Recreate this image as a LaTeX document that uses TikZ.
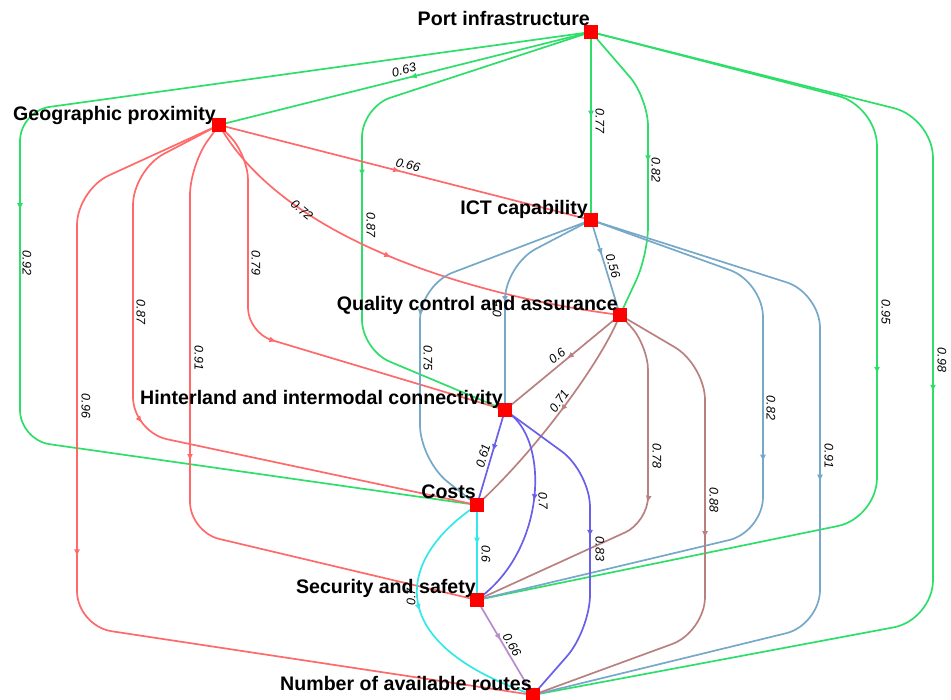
\documentclass[tikz,border=0pt]{standalone}
\usepackage{fontspec}
\setmainfont{Liberation Sans}
\usetikzlibrary{arrows.meta,decorations.markings}
\definecolor{cgreen}{RGB}{45,222,105}
\definecolor{cred}{RGB}{255,105,105}
\definecolor{cblue}{RGB}{118,168,200}
\definecolor{cbrown}{RGB}{185,128,128}
\definecolor{cviolet}{RGB}{105,95,232}
\definecolor{ccyan}{RGB}{50,232,232}
\definecolor{clilac}{RGB}{185,138,205}
\definecolor{nodered}{RGB}{255,0,0}
\begin{document}
\begin{tikzpicture}[x=1pt,y=-1pt,
  sq/.style={minimum size=13pt, inner sep=0pt, draw=none},
  nlab/.style={font=\fontsize{19.6}{21}\selectfont\bfseries, inner sep=0pt, anchor=base east},
  elab/.style={font=\fontsize{12.5}{13}\selectfont\itshape, inner sep=0pt},
  ed/.style={line width=1.7pt},
  eg/.style={ed, color=cgreen},
  er/.style={ed, color=cred},
  eb/.style={ed, color=cblue},
  eq/.style={ed, color=cbrown},
  ev/.style={ed, color=cviolet},
  ec/.style={ed, color=ccyan},
  ep/.style={ed, color=clilac},
  amark/.style={postaction={decorate, decoration={markings, mark=at position #1 with {\arrow{Latex[length=7pt,width=6pt]}}}}},
]
\useasboundingbox (0,0) rectangle (951,700);

% node squares (positions)
\node[sq] (PI) at (591,32) {};
\node[sq] (GP) at (219,125) {};
\node[sq] (ICT) at (591,220) {};
\node[sq] (QC) at (620,315) {};
\node[sq] (HI) at (505,410) {};
\node[sq] (Costs) at (477,505) {};
\node[sq] (SS) at (477,600) {};
\node[sq] (NR) at (533,695) {};

% Port infrastructure edges
\draw[eg, amark=180pt] (PI) -- (GP);
\draw[eg, amark=658pt, rounded corners=30pt] (PI) -- (20,111) -- (20,440) -- (Costs);
\draw[eg, amark=295pt, rounded corners=30pt] (PI) -- (362,107) -- (362,350) -- (HI);
\draw[eg, amark=79pt] (PI) -- (ICT);
\draw[eg, amark=140pt, rounded corners=28pt] (PI) -- (648,98) -- (648,255) -- (QC);
\draw[eg, amark=544pt, rounded corners=40pt] (PI) -- (877,106) -- (877,518) -- (SS);
\draw[eg, amark=607pt, rounded corners=40pt] (PI) -- (933,118) -- (933,620) -- (NR);

% Geographic proximity edges
\draw[er, amark=180pt] (GP) -- (ICT);
\draw[er, amark=213pt] (GP) .. controls (290,240) and (470,295) .. (QC);
\draw[er, amark=230pt, rounded corners=25pt] (GP) -- (248,155) -- (248,333) -- (HI);
\draw[er, amark=337pt, rounded corners=35pt] (GP) -- (133,170) -- (133,432) -- (Costs);
\draw[er, amark=335pt, rounded corners=30pt] (GP) -- (190,165) -- (190,532) -- (SS);
\draw[er, amark=507pt, rounded corners=35pt] (GP) -- (77,190) -- (77,626) -- (NR);

% ICT capability edges
\draw[eb, amark=30pt] (ICT) -- (QC);
\draw[eb, amark=120pt, rounded corners=35pt] (ICT) -- (505,265) -- (HI);
\draw[eb, amark=198pt, rounded corners=35pt] (ICT) -- (420,285) -- (420,460) -- (Costs);
\draw[eb, amark=346pt, rounded corners=35pt] (ICT) -- (763,282) -- (763,532) -- (SS);
\draw[eb, amark=412pt, rounded corners=35pt] (ICT) -- (820,293) -- (820,625) -- (NR);

% Quality control edges
\draw[eq, amark=60pt] (QC) -- (HI);
\draw[eq, amark=106pt] (QC) .. controls (598,365) and (540,445) .. (Costs);
\draw[eq, amark=187pt, rounded corners=25pt] (QC) -- (648,345) -- (648,522) -- (SS);
\draw[eq, amark=257pt, rounded corners=35pt] (QC) -- (705,365) -- (705,632) -- (NR);

% Hinterland edges
\draw[ev, amark=36pt] (HI) -- (Costs);
\draw[ev, amark=92pt] (HI) .. controls (548,445) and (545,545) .. (SS);
\draw[ev, amark=156pt, rounded corners=35pt] (HI) -- (590,472) -- (590,630) -- (NR);

% Costs edges
\draw[ec, amark=33pt] (Costs) -- (SS);
\draw[ec, amark=121pt] (Costs) .. controls (400,560) and (381,640) .. (NR);

% Security edge
\draw[ep, amark=39pt] (SS) -- (NR);

% squares on top
\foreach \n in {PI,GP,ICT,QC,HI,Costs,SS,NR}
  \fill[nodered] (\n.south west) rectangle (\n.north east);

% node labels
\node[nlab] (PIl) at (590,26) {Port infrastructure};
\node[nlab] (GPl) at (216,121) {Geographic proximity};
\node[nlab] (ICTl) at (588,215) {ICT capability};
\node[nlab] (QCl) at (618,311) {Quality control and assurance};
\node[nlab] (HIl) at (503,405) {Hinterland and intermodal connectivity};
\node[nlab] (Costsl) at (476,499) {Costs};
\node[nlab] (SSl) at (476,593) {Security and safety};
\node[nlab] (NRl) at (532,690) {Number of available routes};

% edge labels
\node[elab, rotate=14] (l063) at (404,70) {0.63};
\node[elab, rotate=-14] (l066a) at (408,165) {0.66};
\node[elab, rotate=-90] (l077) at (600,121) {0.77};
\node[elab, rotate=-90] (l087a) at (371,225) {0.87};
\node[elab, rotate=-90] (l082a) at (656,170) {0.82};
\node[elab, rotate=-90] (l092) at (27,263) {0.92};
\node[elab, rotate=-90] (l087b) at (141,312) {0.87};
\node[elab, rotate=-90] (l091a) at (199,358) {0.91};
\node[elab, rotate=-90] (l096) at (86,406) {0.96};
\node[elab, rotate=-90] (l079) at (256,263) {0.79};
\node[elab, rotate=-40] (l072) at (302,210) {0.72};
\node[elab, rotate=-90] (l075) at (428,358) {0.75};
\node[elab, rotate=90] (l05) at (497,309) {0.5};
\node[elab, rotate=-73] (l056) at (613,266) {0.56};
\node[elab, rotate=40] (l06a) at (557,356) {0.6};
\node[elab, rotate=55] (l071) at (559,401) {0.71};
\node[elab, rotate=-90] (l078) at (657,456) {0.78};
\node[elab, rotate=-90] (l088) at (714,500) {0.88};
\node[elab, rotate=-90] (l082b) at (771,408) {0.82};
\node[elab, rotate=-90] (l091b) at (829,456) {0.91};
\node[elab, rotate=-90] (l095) at (886,312) {0.95};
\node[elab, rotate=-90] (l098) at (942,360) {0.98};
\node[elab, rotate=74] (l061) at (483,456) {0.61};
\node[elab, rotate=-88] (l07a) at (543,501) {0.7};
\node[elab, rotate=-90] (l06b) at (486,554) {0.6};
\node[elab, rotate=-90] (l083) at (600,549) {0.83};
\node[elab, rotate=90] (l07b) at (411,597) {0.7};
\node[elab, rotate=-60] (l066b) at (512,645) {0.66};
\end{tikzpicture}
\end{document}
